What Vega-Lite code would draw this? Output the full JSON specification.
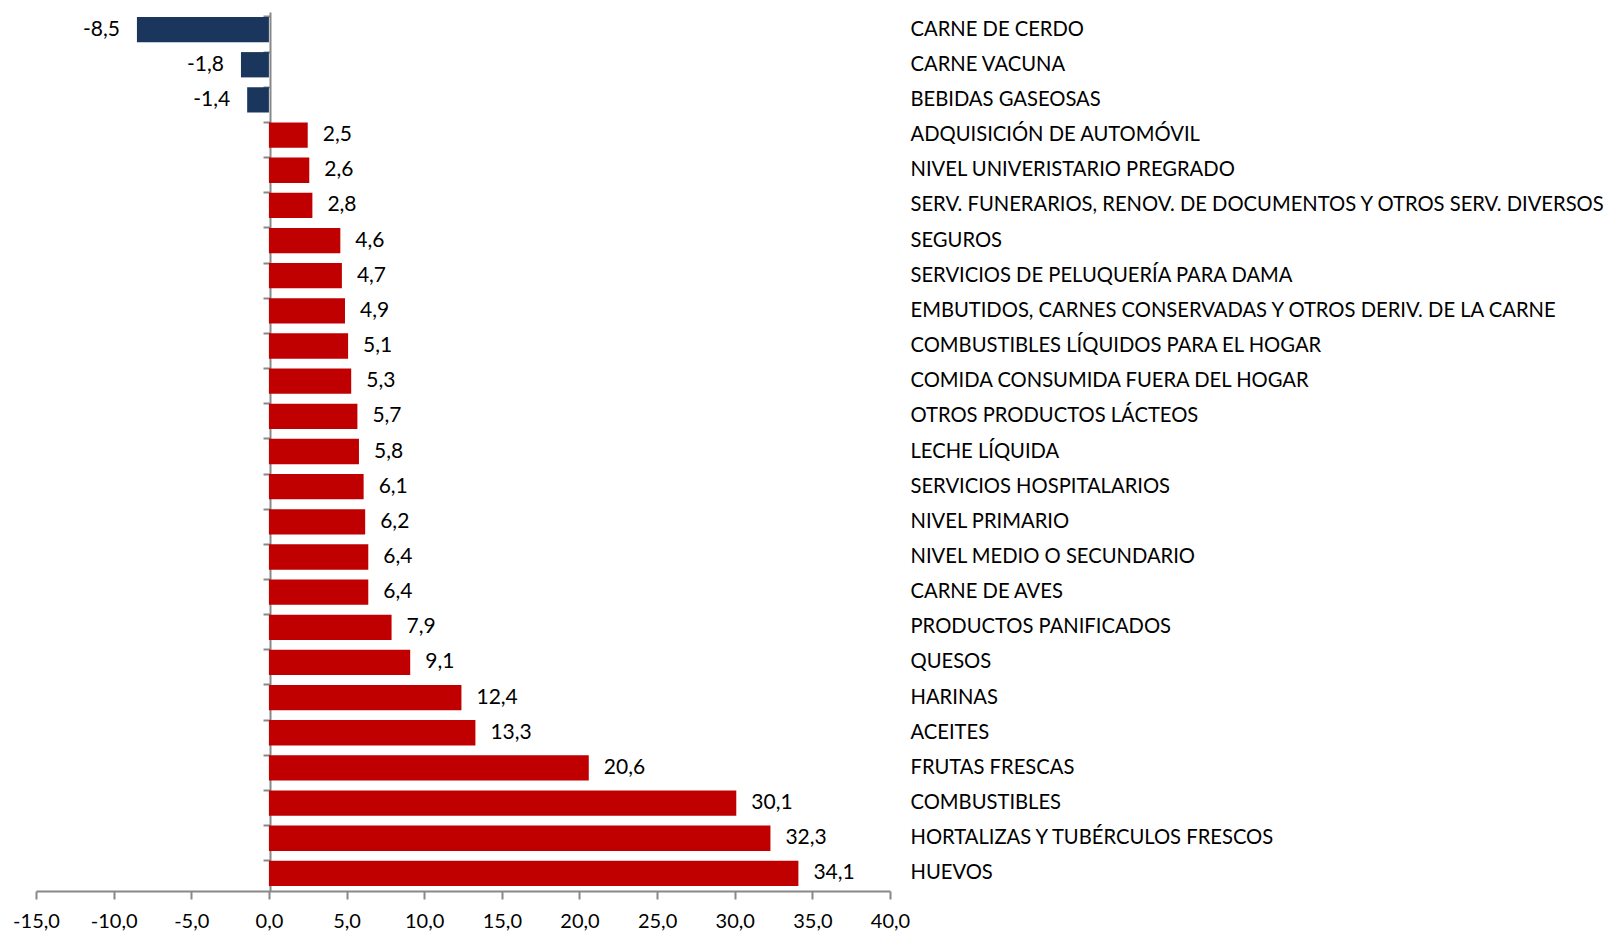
{
  "$schema": "https://vega.github.io/schema/vega-lite/v6.json",
  "autosize": {"type": "none"},
  "padding": {"left": 36, "top": 12, "right": 725, "bottom": 44},
  "width": 854,
  "height": 879,
  "background": "white",
  "config": {
    "view": {"stroke": null},
    "font": "Lato",
    "locale": {"number": {"decimal": ",", "thousands": ".", "grouping": [3], "currency": ["", ""], "minus": "-"}}
  },
  "data": {"values": [
    {"cat": "CARNE DE CERDO", "v": -8.5},
    {"cat": "CARNE VACUNA", "v": -1.8},
    {"cat": "BEBIDAS GASEOSAS", "v": -1.4},
    {"cat": "ADQUISICIÓN DE AUTOMÓVIL", "v": 2.5},
    {"cat": "NIVEL UNIVERISTARIO PREGRADO", "v": 2.6},
    {"cat": "SERV. FUNERARIOS, RENOV. DE DOCUMENTOS Y OTROS SERV. DIVERSOS", "v": 2.8},
    {"cat": "SEGUROS", "v": 4.6},
    {"cat": "SERVICIOS DE PELUQUERÍA PARA DAMA", "v": 4.7},
    {"cat": "EMBUTIDOS, CARNES CONSERVADAS Y OTROS DERIV. DE LA CARNE", "v": 4.9},
    {"cat": "COMBUSTIBLES LÍQUIDOS PARA EL HOGAR", "v": 5.1},
    {"cat": "COMIDA CONSUMIDA FUERA DEL HOGAR", "v": 5.3},
    {"cat": "OTROS PRODUCTOS LÁCTEOS", "v": 5.7},
    {"cat": "LECHE LÍQUIDA", "v": 5.8},
    {"cat": "SERVICIOS HOSPITALARIOS", "v": 6.1},
    {"cat": "NIVEL PRIMARIO", "v": 6.2},
    {"cat": "NIVEL MEDIO O SECUNDARIO", "v": 6.4},
    {"cat": "CARNE DE AVES", "v": 6.4},
    {"cat": "PRODUCTOS PANIFICADOS", "v": 7.9},
    {"cat": "QUESOS", "v": 9.1},
    {"cat": "HARINAS", "v": 12.4},
    {"cat": "ACEITES", "v": 13.3},
    {"cat": "FRUTAS FRESCAS", "v": 20.6},
    {"cat": "COMBUSTIBLES", "v": 30.1},
    {"cat": "HORTALIZAS Y TUBÉRCULOS FRESCOS", "v": 32.3},
    {"cat": "HUEVOS", "v": 34.1}
  ]},
  "resolve": {"axis": {"y": "independent"}},
  "layer": [
    {
      "mark": {"type": "bar", "stroke": null},
      "encoding": {
        "y": {"field": "cat", "type": "nominal", "sort": null,
              "scale": {"paddingInner": 0.28, "paddingOuter": 0.14},
              "axis": {"orient": "right", "title": null, "domain": false, "ticks": false,
                       "labelPadding": 20, "labelAlign": "left", "labelFontSize": 20.2,
                       "labelColor": "#000", "labelFont": "Lato", "labelLimit": 800}},
        "x": {"field": "v", "type": "quantitative",
              "scale": {"domain": [-15, 40], "nice": false, "zero": false},
              "axis": {"title": null, "values": [-15,-10,-5,0,5,10,15,20,25,30,35,40],
                       "format": ".1f", "grid": false, "domainColor": "#888", "domainWidth": 2,
                       "tickColor": "#888", "tickWidth": 2, "tickSize": 8,
                       "labelFontSize": 20, "labelColor": "#000", "labelPadding": 12, "labelFlush": false}},
        "color": {"condition": {"test": "datum.v < 0", "value": "#1B365D"}, "value": "#C00000"}
      }
    },
    {
      "mark": {"type": "rule", "color": "#888", "strokeWidth": 2, "strokeOpacity": 0},
      "encoding": {
        "x": {"datum": 0, "type": "quantitative"},
        "y": {"field": "cat", "type": "nominal", "sort": null,
              "axis": {"orient": "left", "offset": -234, "title": null, "labels": false,
                       "domain": true, "domainColor": "#888", "domainWidth": 2,
                       "ticks": true, "bandPosition": 0,
                       "tickColor": "#888", "tickWidth": 2, "tickSize": 7}}
      }
    },
    {
      "transform": [{"filter": "datum.v >= 0"}],
      "mark": {"type": "text", "align": "left", "baseline": "middle", "dx": 15, "fontSize": 21, "color": "#000"},
      "encoding": {
        "y": {"field": "cat", "type": "nominal", "sort": null, "axis": null},
        "x": {"field": "v", "type": "quantitative"},
        "text": {"field": "v", "type": "quantitative", "format": ".1f"}
      }
    },
    {
      "transform": [{"filter": "datum.v < 0"}],
      "mark": {"type": "text", "align": "right", "baseline": "middle", "dx": -17, "fontSize": 21, "color": "#000"},
      "encoding": {
        "y": {"field": "cat", "type": "nominal", "sort": null, "axis": null},
        "x": {"field": "v", "type": "quantitative"},
        "text": {"field": "v", "type": "quantitative", "format": ".1f"}
      }
    }
  ]
}
